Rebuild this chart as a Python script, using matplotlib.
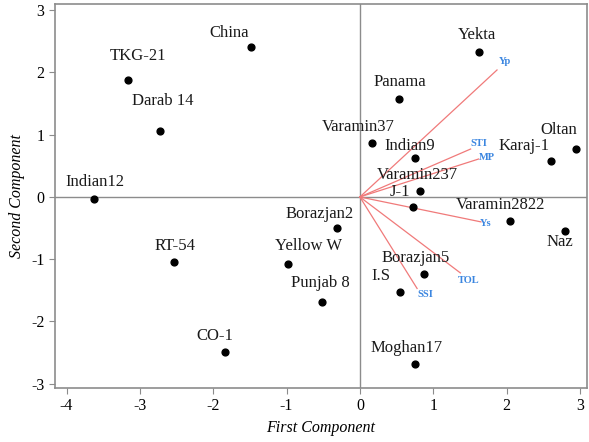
import matplotlib
matplotlib.use('Agg')
import matplotlib.pyplot as plt

# генотипы: имена и координаты (первая, вторая компонента)
names = ['China', 'TKG-21', 'Darab 14', 'Indian12', 'RT-54', 'Yellow W', 'Punjab 8',
         'CO-1', 'Borazjan2', 'Yekta', 'Panama', 'Varamin37', 'Indian9', 'Varamin237',
         'J-1', 'Varamin2822', 'Naz', 'Karaj-1', 'Oltan', 'Borazjan5', 'I.S', 'Moghan17']
pc1 = [-1.48, -3.16, -2.73, -3.62, -2.53, -0.98, -0.52,
       -1.84, -0.31, 1.63, 0.54, 0.16, 0.75, 0.82,
       0.72, 2.05, 2.80, 2.61, 2.95, 0.88, 0.55, 0.75]
pc2 = [2.41, 1.88, 1.06, -0.03, -1.04, -1.08, -1.69,
       -2.49, -0.50, 2.33, 1.58, 0.87, 0.63, 0.10,
       -0.16, -0.39, -0.55, 0.58, 0.77, -1.24, -1.52, -2.68]

# индексы (векторы)
vec_names = ['Yp', 'STI', 'MP', 'Ys', 'TOL', 'SSI']
vec_x = [1.87, 1.51, 1.62, 1.65, 1.37, 0.78]
vec_y = [2.04, 0.77, 0.61, -0.40, -1.22, -1.47]

# смещения подписей в пикселях
lab_off = {'China': (-22, 14), 'TKG-21': (10, 24), 'Darab 14': (3, 30), 'Indian12': (1, 17),
           'RT-54': (1, 16), 'Yellow W': (21, 18), 'Punjab 8': (-1, 19), 'CO-1': (-10, 16),
           'Borazjan2': (-18, 14), 'Yekta': (-2, 17), 'Panama': (0, 17), 'Varamin37': (-13, 16),
           'Indian9': (-5, 12), 'Varamin237': (-3, 16), 'J-1': (-13, 15), 'Varamin2822': (-10, 16),
           'Naz': (-5, -11), 'Karaj-1': (-27, 15), 'Oltan': (-17, 19), 'Borazjan5': (-9, 16),
           'I.S': (-19, 16), 'Moghan17': (-8, 16)}
vec_off = {'Yp': (8, 8), 'STI': (8, 6), 'MP': (8, 1), 'Ys': (5, -2), 'TOL': (8, -8), 'SSI': (8, -6)}

plt.rcParams['font.family'] = ['Liberation Serif', 'DejaVu Serif']
plt.rcParams['axes.unicode_minus'] = False

fig = plt.figure(figsize=(5.89, 4.42), dpi=100)
ax = fig.add_axes([0.093, 0.122, 0.904, 0.869])

ax.axhline(0, color='#8c8c8c', linewidth=1.0, zorder=1)
ax.axvline(0, color='#8c8c8c', linewidth=1.0, zorder=1)

for i in range(len(vec_names)):
    ax.plot([0, vec_x[i]], [0, vec_y[i]], color='#f07a7a', linewidth=0.9, zorder=2)
    ax.annotate(vec_names[i], (vec_x[i], vec_y[i]), xytext=vec_off[vec_names[i]],
                textcoords='offset pixels', color='#3b86e0', fontsize=7.5,
                fontweight='bold', ha='center', va='center')

ax.scatter(pc1, pc2, s=24, color='black', zorder=3)
for n, x, y in zip(names, pc1, pc2):
    dx, dy = lab_off[n]
    ax.annotate(n, (x, y), xytext=(dx, dy), textcoords='offset pixels',
                ha='center', va='center', fontsize=12, color='#1a1a1a')

ax.set_xlim(-4.16, 3.1)
ax.set_ylim(-3.07, 3.1)
ax.set_xticks([-4, -3, -2, -1, 0, 1, 2, 3])
ax.set_yticks([-3, -2, -1, 0, 1, 2, 3])
for s in ax.spines.values():
    s.set_color('#8c8c8c')
    s.set_linewidth(1.2)
ax.tick_params(colors='#8c8c8c', labelcolor='black', labelsize=11.5, length=4, direction='out')
ax.set_xlabel('First Component', fontstyle='italic', fontsize=11.5, labelpad=4)
ax.set_ylabel('Second Component', fontstyle='italic', fontsize=11.5, labelpad=4)

fig.savefig('out.png', dpi=100)
